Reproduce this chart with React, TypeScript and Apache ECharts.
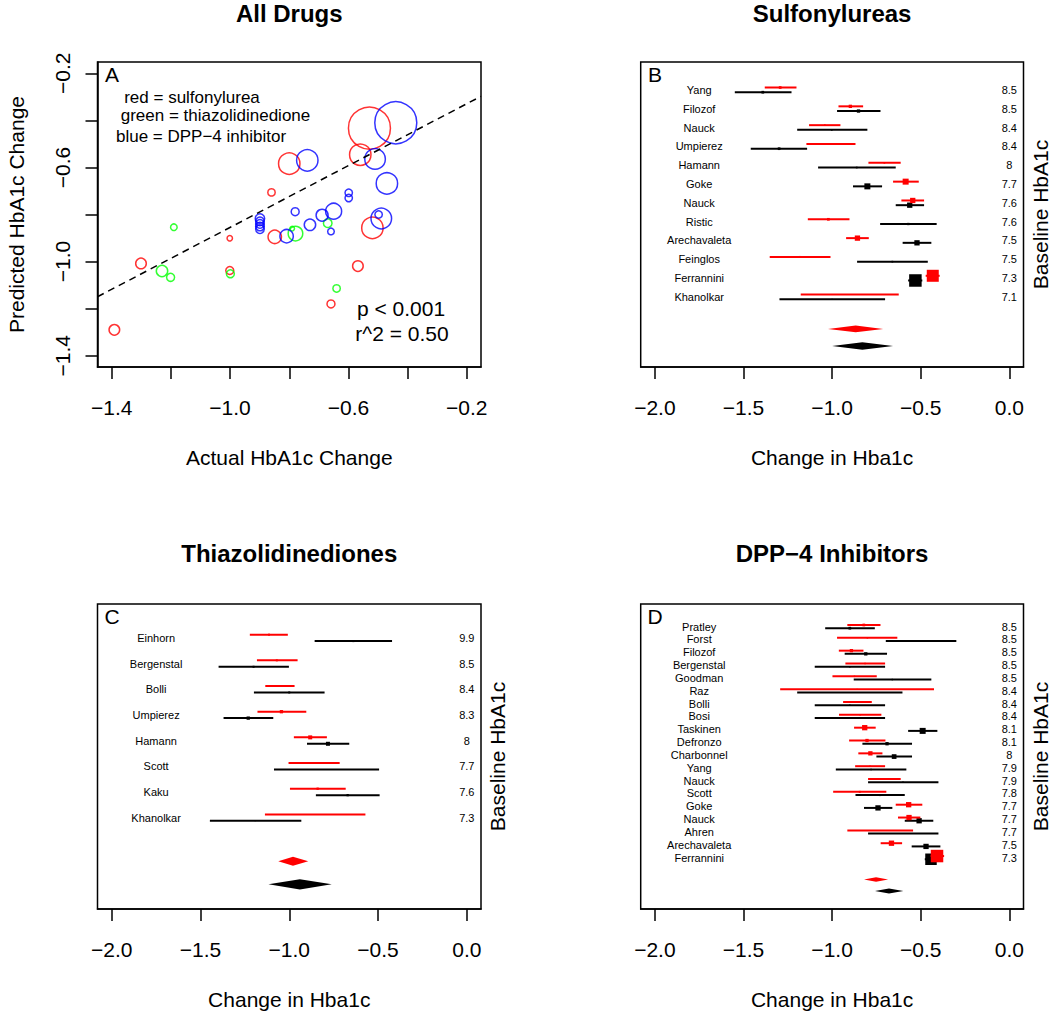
import React, { useEffect, useRef } from 'react';
import * as echarts from 'echarts';

const FONT = '"Liberation Sans", Arial, Helvetica, sans-serif';
const RED = '#ff0000';
const GREEN = '#00ff00';
const BLUE = '#0000ff';
const BLACK = '#000000';

// ---------------- Panel A: [actual change, predicted change, study weight] ----------------
const sulfonylureaPoints = [
  [-0.529, -0.433, 21],
  [-0.560, -0.546, 10.7],
  [-0.800, -0.584, 10.7],
  [-0.860, -0.706, 3.7],
  [-1.001, -0.901, 2.7],
  [-0.849, -0.895, 6.7],
  [-0.519, -0.857, 10.7],
  [-1.301, -1.008, 5.3],
  [-1.001, -1.038, 4],
  [-0.568, -1.019, 5.3],
  [-0.659, -1.180, 4],
  [-1.391, -1.290, 5.3],
];
const thiazolidinedionePoints = [
  [-1.190, -0.854, 3.3],
  [-1.230, -1.040, 5.7],
  [-1.201, -1.067, 4],
  [-0.999, -1.052, 4],
  [-0.779, -0.881, 7.3],
  [-0.790, -0.860, 2.3],
  [-0.670, -0.837, 4.3],
  [-0.640, -1.114, 3.7],
];
const dpp4Points = [
  [-0.440, -0.410, 21],
  [-0.739, -0.570, 10.7],
  [-0.510, -0.564, 10.3],
  [-0.470, -0.668, 10.7],
  [-0.489, -0.817, 10.3],
  [-0.498, -0.800, 3.7],
  [-0.599, -0.708, 3.7],
  [-0.599, -0.730, 3.7],
  [-0.650, -0.786, 8],
  [-0.689, -0.803, 6],
  [-0.730, -0.844, 5.7],
  [-0.659, -0.872, 3.3],
  [-0.780, -0.788, 4],
  [-0.809, -0.892, 6.7],
  [-0.899, -0.817, 4.7],
  [-0.899, -0.829, 4.3],
  [-0.899, -0.840, 4.3],
  [-0.899, -0.851, 4.3],
  [-0.899, -0.862, 4.3],
];
const regressionIntercept = -0.198;
const regressionSlope = 0.657;

const scatterTicks = [-1.4, -1.2, -1.0, -0.8, -0.6, -0.4, -0.2];
const scatterTickLabels = [-1.4, -1.0, -0.6, -0.2];
const forestTicks = [-2.0, -1.5, -1.0, -0.5, 0.0];

// ---------------- Panel B: Sulfonylureas [lo, estimate, hi, weight] ----------------
const suStudies = ['Yang', 'Filozof', 'Nauck', 'Umpierez', 'Hamann', 'Goke', 'Nauck', 'Ristic', 'Arechavaleta', 'Feinglos', 'Ferrannini', 'Khanolkar'];
const suBaseline = ['8.5', '8.5', '8.4', '8.4', '8', '7.7', '7.6', '7.6', '7.5', '7.5', '7.3', '7.1'];
const suRed = [
  [-1.380, -1.293, -1.201, 2.7],
  [-0.964, -0.897, -0.825, 3.3],
  [-1.130, -1.041, -0.953, 1.7],
  [-1.145, -1.008, -0.868, 2],
  [-0.795, -0.705, -0.613, 1.7],
  [-0.656, -0.585, -0.511, 6],
  [-0.609, -0.545, -0.481, 5.3],
  [-1.137, -1.021, -0.902, 2.7],
  [-0.921, -0.857, -0.793, 5.3],
  [-1.352, -1.182, -1.009, 2],
  [-0.472, -0.432, -0.393, 12],
  [-1.177, -0.900, -0.624, 1],
];
const suBlack = [
  [-1.549, -1.391, -1.229, 2.7],
  [-0.972, -0.851, -0.727, 3.3],
  [-1.197, -1.002, -0.801, 1.7],
  [-1.459, -1.299, -1.141, 2.7],
  [-1.079, -0.861, -0.641, 1.7],
  [-0.882, -0.801, -0.718, 6],
  [-0.641, -0.562, -0.481, 5.3],
  [-0.729, -0.570, -0.410, 2.3],
  [-0.602, -0.521, -0.440, 5.3],
  [-0.859, -0.660, -0.460, 1.7],
  [-0.571, -0.530, -0.491, 12.5],
  [-1.297, -1.000, -0.701, 1],
];
const suPooledRed = [-1.023, -0.867, -0.712];
const suPooledBlack = [-1.000, -0.829, -0.656];

// ---------------- Panel C: Thiazolidinediones ----------------
const tzStudies = ['Einhorn', 'Bergenstal', 'Bolli', 'Umpierez', 'Hamann', 'Scott', 'Kaku', 'Khanolkar'];
const tzBaseline = ['9.9', '8.5', '8.4', '8.3', '8', '7.7', '7.6', '7.3'];
const tzRed = [
  [-1.222, -1.114, -1.008, 2],
  [-1.182, -1.070, -0.953, 2],
  [-1.135, -1.053, -0.970, 2],
  [-1.179, -1.044, -0.904, 3.3],
  [-0.974, -0.882, -0.788, 4],
  [-1.004, -0.861, -0.716, 1],
  [-0.996, -0.840, -0.682, 2.3],
  [-1.137, -0.855, -0.571, 1],
];
const tzBlack = [
  [-0.857, -0.639, -0.421, 2],
  [-1.398, -1.201, -1.002, 2],
  [-1.199, -1.000, -0.801, 2],
  [-1.370, -1.231, -1.090, 3.3],
  [-0.900, -0.782, -0.662, 4],
  [-1.086, -0.791, -0.494, 1],
  [-0.850, -0.671, -0.491, 2.3],
  [-1.447, -1.192, -0.932, 1],
];
const tzPooledRed = [-1.062, -0.979, -0.893];
const tzPooledBlack = [-1.117, -0.940, -0.761];

// ---------------- Panel D: DPP-4 inhibitors ----------------
const dpStudies = ['Pratley', 'Forst', 'Filozof', 'Bergenstal', 'Goodman', 'Raz', 'Bolli', 'Bosi', 'Taskinen', 'Defronzo', 'Charbonnel', 'Yang', 'Nauck', 'Scott', 'Goke', 'Nauck', 'Ahren', 'Arechavaleta', 'Ferrannini'];
const dpBaseline = ['8.5', '8.5', '8.5', '8.5', '8.5', '8.4', '8.4', '8.4', '8.1', '8.1', '8', '7.9', '7.9', '7.8', '7.7', '7.7', '7.7', '7.5', '7.3'];
const dpRed = [
  [-0.914, -0.821, -0.727, 2.7],
  [-0.972, -0.801, -0.632, 1.5],
  [-0.962, -0.891, -0.823, 3.3],
  [-0.925, -0.814, -0.701, 1.5],
  [-0.998, -0.874, -0.748, 1.5],
  [-1.293, -0.859, -0.425, 1],
  [-0.938, -0.857, -0.776, 1.5],
  [-0.961, -0.842, -0.722, 1.5],
  [-0.876, -0.816, -0.754, 5.3],
  [-0.904, -0.803, -0.699, 3.3],
  [-0.852, -0.784, -0.716, 4.3],
  [-0.870, -0.786, -0.701, 1.5],
  [-0.797, -0.707, -0.613, 1.7],
  [-0.994, -0.844, -0.694, 2],
  [-0.641, -0.568, -0.491, 5.3],
  [-0.628, -0.566, -0.502, 5.3],
  [-0.914, -0.729, -0.543, 1],
  [-0.726, -0.665, -0.605, 5.3],
  [-0.444, -0.408, -0.368, 12.5],
];
const dpBlack = [
  [-1.039, -0.900, -0.759, 2.7],
  [-0.697, -0.500, -0.299, 1.5],
  [-0.929, -0.810, -0.690, 3.3],
  [-1.098, -0.900, -0.701, 1.5],
  [-0.878, -0.660, -0.440, 1.5],
  [-1.197, -0.900, -0.603, 1],
  [-1.098, -0.900, -0.701, 1.5],
  [-1.098, -0.900, -0.701, 1.5],
  [-0.571, -0.489, -0.406, 6],
  [-0.829, -0.690, -0.549, 3.3],
  [-0.750, -0.650, -0.549, 4.7],
  [-0.979, -0.780, -0.581, 1.5],
  [-0.797, -0.600, -0.400, 1.5],
  [-0.868, -0.729, -0.590, 2],
  [-0.820, -0.741, -0.660, 5.3],
  [-0.590, -0.509, -0.429, 5.3],
  [-0.797, -0.600, -0.400, 1],
  [-0.551, -0.470, -0.389, 5.3],
  [-0.477, -0.442, -0.406, 11.5],
];
const dpPooledRed = [-0.820, -0.752, -0.684];
const dpPooledBlack = [-0.758, -0.679, -0.598];

// ---------------- Layout ----------------
const GRIDS = [
  { left: 97.5, top: 62, width: 383.5, height: 305 },
  { left: 640.7, top: 62, width: 382.8, height: 305 },
  { left: 97.5, top: 604, width: 383.5, height: 305 },
  { left: 640.7, top: 604, width: 382.8, height: 305 },
];
const A_MIN = -1.448;
const A_MAX = -0.152;
const F_MIN = -2.08;
const F_MAX = 0.08;
const ROW_OFFSET = 0.125;
const NAME_X = -1.75;
const BASE_X = 0;

const fmt = (v: number) => (Math.abs(v) < 1e-9 ? '0.0' : v.toFixed(1)).replace('-', '\u2212');

function rowRange(n: number) {
  const lo = -0.88;
  const hi = n + 2.12;
  const pad = 0.04 * (hi - lo);
  return [lo - pad, hi + pad];
}

const axisLineStyle = { show: true, onZero: false, lineStyle: { color: BLACK, width: 1.5 } };

function xAxisFor(gi: number, min: number, max: number, ticks: number[], labels: number[]) {
  return {
    gridIndex: gi,
    type: 'value',
    position: 'bottom',
    min,
    max,
    axisLine: axisLineStyle,
    splitLine: { show: false },
    axisTick: { show: true, inside: false, length: 12, lineStyle: { color: BLACK, width: 1.5 }, customValues: ticks },
    axisLabel: { show: true, customValues: labels, formatter: fmt, color: BLACK, fontSize: 21, fontFamily: FONT, margin: 29.5 },
  };
}

function forestSeries(gi: number, studies: string[], baseline: string[], red: number[][], black: number[][], pooledRed: number[], pooledBlack: number[]) {
  const n = studies.length;
  const bars: number[][] = [];
  black.forEach((b, i) => bars.push([i + ROW_OFFSET, b[0], b[1], b[2], b[3], 1]));
  red.forEach((r, i) => bars.push([i - ROW_OFFSET, r[0], r[1], r[2], r[3], 0]));
  const diamonds = [
    [n + 0.7, pooledRed[0], pooledRed[1], pooledRed[2], 0],
    [n + 1.6, pooledBlack[0], pooledBlack[1], pooledBlack[2], 1],
  ];
  const textStyle = (text: string) => ({
    text,
    fill: BLACK,
    font: `11px ${FONT}`,
    textAlign: 'center',
    textVerticalAlign: 'middle',
    align: 'center',
    verticalAlign: 'middle',
  });
  return [
    {
      type: 'custom',
      coordinateSystem: 'cartesian2d',
      xAxisIndex: gi,
      yAxisIndex: gi,
      silent: true,
      data: bars,
      encode: { x: [1, 2, 3], y: 0 },
      renderItem: (params: any, api: any) => {
        const y = api.value(0);
        const c = api.value(5) === 0 ? RED : BLACK;
        const w = api.value(4);
        const a = api.coord([api.value(1), y]);
        const m = api.coord([api.value(2), y]);
        const b = api.coord([api.value(3), y]);
        return {
          type: 'group',
          children: [
            { type: 'line', shape: { x1: a[0], y1: a[1], x2: b[0], y2: b[1] }, style: { stroke: c, lineWidth: 2 } },
            { type: 'rect', shape: { x: m[0] - w / 2, y: m[1] - w / 2, width: w, height: w }, style: { fill: c } },
          ],
        };
      },
    },
    {
      type: 'custom',
      coordinateSystem: 'cartesian2d',
      xAxisIndex: gi,
      yAxisIndex: gi,
      silent: true,
      data: diamonds,
      encode: { x: [1, 2, 3], y: 0 },
      renderItem: (params: any, api: any) => {
        const y = api.value(0);
        const isRed = api.value(4) === 0;
        const h = isRed ? 0.18 : 0.2;
        const p1 = api.coord([api.value(1), y]);
        const p2 = api.coord([api.value(2), y - h]);
        const p3 = api.coord([api.value(3), y]);
        const p4 = api.coord([api.value(2), y + h]);
        return { type: 'polygon', shape: { points: [p1, p2, p3, p4] }, style: { fill: isRed ? RED : BLACK } };
      },
    },
    {
      type: 'custom',
      coordinateSystem: 'cartesian2d',
      xAxisIndex: gi,
      yAxisIndex: gi,
      silent: true,
      data: studies.map((_, i) => [NAME_X, i]),
      encode: { x: 0, y: 1 },
      renderItem: (params: any, api: any) => {
        const i = params.dataIndex;
        const pn = api.coord([NAME_X, i]);
        const pb = api.coord([BASE_X, i]);
        return {
          type: 'group',
          children: [
            { type: 'text', x: pn[0], y: pn[1], style: textStyle(studies[i]) },
            { type: 'text', x: pb[0], y: pb[1], style: textStyle(baseline[i]) },
          ],
        };
      },
    },
  ];
}

function gText(text: string, x: number, y: number, size: number, bold = false, rot = 0) {
  return {
    type: 'text',
    x,
    y,
    rotation: rot,
    silent: true,
    style: {
      text,
      fill: BLACK,
      font: `${bold ? 'bold ' : ''}${size}px ${FONT}`,
      textAlign: 'center',
      textVerticalAlign: 'middle',
      align: 'center',
      verticalAlign: 'middle',
    },
  };
}

function scatterSeries(data: number[][], color: string) {
  return {
    type: 'scatter',
    xAxisIndex: 0,
    yAxisIndex: 0,
    data,
    symbol: 'circle',
    symbolSize: (v: number[]) => v[2] * 2,
    itemStyle: { color: 'rgba(0,0,0,0)', borderColor: color, borderWidth: 1.5 },
    emphasis: { disabled: true },
    silent: true,
  };
}

export default function App() {
  const ref = useRef<HTMLDivElement>(null);
  useEffect(() => {
    if (!ref.current) return;
    const chart = echarts.init(ref.current, null, { renderer: 'svg' });
    const suRange = rowRange(suStudies.length);
    const tzRange = rowRange(tzStudies.length);
    const dpRange = rowRange(dpStudies.length);
    const hiddenY = (gi: number, r: number[]) => ({ gridIndex: gi, type: 'value', inverse: true, min: r[0], max: r[1], show: false, splitLine: { show: false } });
    const C_L = GRIDS[0].left + GRIDS[0].width / 2;
    const C_R = GRIDS[1].left + GRIDS[1].width / 2;
    const M_T = GRIDS[0].top + GRIDS[0].height / 2;
    const M_B = GRIDS[2].top + GRIDS[2].height / 2;
    const option: any = {
      animation: false,
      backgroundColor: '#ffffff',
      grid: GRIDS.map((g) => ({ ...g, show: true, borderColor: BLACK, borderWidth: 1.5, backgroundColor: 'transparent', containLabel: false, outerBoundsMode: 'none' })),
      xAxis: [
        xAxisFor(0, A_MIN, A_MAX, scatterTicks, scatterTickLabels),
        xAxisFor(1, F_MIN, F_MAX, forestTicks, forestTicks),
        xAxisFor(2, F_MIN, F_MAX, forestTicks, forestTicks),
        xAxisFor(3, F_MIN, F_MAX, forestTicks, forestTicks),
      ],
      yAxis: [
        {
          gridIndex: 0,
          type: 'value',
          position: 'left',
          min: A_MIN,
          max: A_MAX,
          axisLine: axisLineStyle,
          splitLine: { show: false },
          axisTick: { show: true, inside: false, length: 12, lineStyle: { color: BLACK, width: 1.5 }, customValues: scatterTicks },
          axisLabel: { show: true, customValues: scatterTickLabels, formatter: fmt, rotate: 90, color: BLACK, fontSize: 21, fontFamily: FONT, margin: 24.5 },
        },
        hiddenY(1, suRange),
        hiddenY(2, tzRange),
        hiddenY(3, dpRange),
      ],
      series: [
        {
          type: 'line',
          xAxisIndex: 0,
          yAxisIndex: 0,
          data: [
            [A_MIN, regressionIntercept + regressionSlope * A_MIN],
            [A_MAX, regressionIntercept + regressionSlope * A_MAX],
          ],
          symbol: 'none',
          silent: true,
          clip: true,
          lineStyle: { color: BLACK, width: 1.5, type: [7, 5] },
        },
        scatterSeries(sulfonylureaPoints, RED),
        scatterSeries(thiazolidinedionePoints, GREEN),
        scatterSeries(dpp4Points, BLUE),
        ...forestSeries(1, suStudies, suBaseline, suRed, suBlack, suPooledRed, suPooledBlack),
        ...forestSeries(2, tzStudies, tzBaseline, tzRed, tzBlack, tzPooledRed, tzPooledBlack),
        ...forestSeries(3, dpStudies, dpBaseline, dpRed, dpBlack, dpPooledRed, dpPooledBlack),
      ],
      graphic: [
        gText('All Drugs', C_L, 13, 24, true),
        gText('Sulfonylureas', C_R, 13, 24, true),
        gText('Thiazolidinediones', C_L, 553, 24, true),
        gText('DPP\u22124 Inhibitors', C_R, 553, 24, true),
        gText('Actual HbA1c Change', C_L, 457.5, 21),
        gText('Change in Hba1c', C_R, 457.5, 21),
        gText('Change in Hba1c', C_L, 999.5, 21),
        gText('Change in Hba1c', C_R, 999.5, 21),
        gText('Predicted HbA1c Change', 16, M_T, 21, false, Math.PI / 2),
        gText('Baseline HbA1c', 1040, M_T, 21, false, Math.PI / 2),
        gText('Baseline HbA1c', 497, M_B, 21, false, Math.PI / 2),
        gText('Baseline HbA1c', 1040, M_B, 21, false, Math.PI / 2),
        gText('A', 112, 74, 21),
        gText('B', 655, 74, 21),
        gText('C', 112, 616, 21),
        gText('D', 655, 616, 21),
        gText('red = sulfonylurea', 192, 97, 17),
        gText('green = thiazolidinedione', 215.5, 115.5, 17),
        gText('blue = DPP\u22124 inhibitor', 201, 136, 17),
        gText('p < 0.001', 401, 308, 21),
        gText('r^2 = 0.50', 402, 333, 21),
      ],
    };
    chart.setOption(option);
    return () => chart.dispose();
  }, []);
  return <div ref={ref} style={{ position: 'absolute', left: 0, top: 0, width: 1050, height: 1012, background: '#fff' }} />;
}
